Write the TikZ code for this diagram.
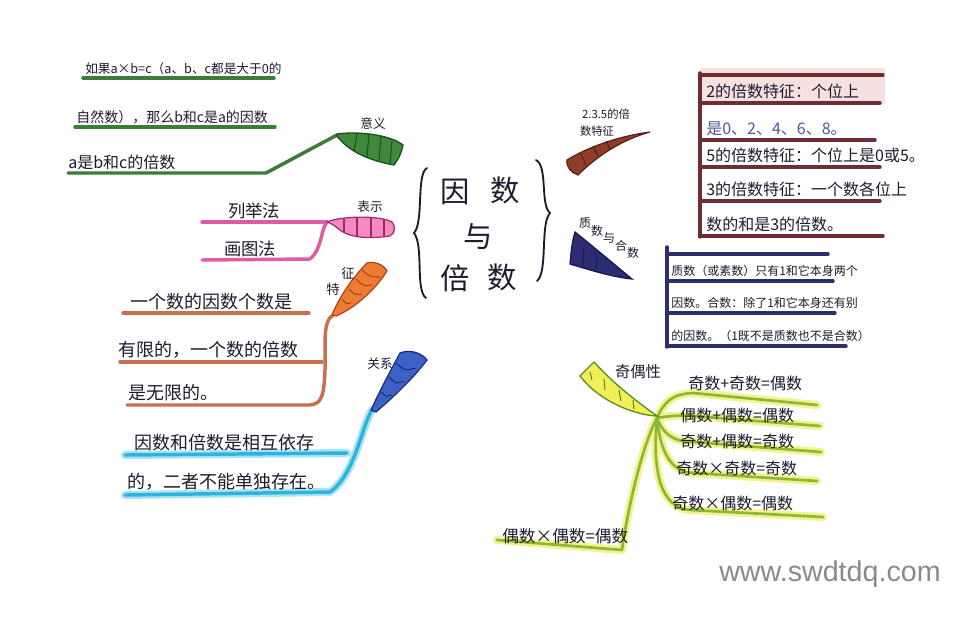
\documentclass[tikz,border=0pt]{standalone}
\usepackage{fontspec}
\setmainfont{Noto Sans CJK SC}
\newfontfamily\wmfont{Liberation Sans}
\newcommand\fsz[2]{\fontsize{#1}{#2}\selectfont}
\definecolor{ink}{HTML}{1C1C2E}
\definecolor{grn}{HTML}{3A7D34}
\definecolor{grnd}{HTML}{1F4F1F}
\definecolor{grnf}{HTML}{3E8A3A}
\definecolor{pnk}{HTML}{E05AA8}
\definecolor{pnkf}{HTML}{F48AC0}
\definecolor{pnkd}{HTML}{A02868}
\definecolor{org}{HTML}{C8704E}
\definecolor{orgf}{HTML}{EE7B32}
\definecolor{orgd}{HTML}{A8441A}
\definecolor{cyn}{HTML}{2EB4DC}
\definecolor{cynl}{HTML}{A8E4F4}
\definecolor{blf}{HTML}{3D62C6}
\definecolor{bld}{HTML}{1C2A7E}
\definecolor{brf}{HTML}{8E3C2C}
\definecolor{brd}{HTML}{5A1E16}
\definecolor{mar}{HTML}{6E2C36}
\definecolor{marl}{HTML}{F6E0E0}
\definecolor{nvf}{HTML}{2C2C74}
\definecolor{nvd}{HTML}{16164A}
\definecolor{nvl}{HTML}{2E2E6E}
\definecolor{ylf}{HTML}{F2EE5A}
\definecolor{yld}{HTML}{5E8E22}
\definecolor{yll}{HTML}{8CB834}
\definecolor{ylh}{HTML}{F4F290}
\definecolor{wmc}{HTML}{8A8A8A}
\definecolor{bluet}{HTML}{4A5A9A}
\begin{document}
\begin{tikzpicture}[x=0.75pt,y=-0.75pt,
  txt/.style={anchor=south west, inner sep=0pt, text=ink},
  lbl/.style={inner sep=0pt, text=ink, font=\fsz{9.5pt}{11pt}},
  ctr/.style={inner sep=0pt, text=ink, font=\fsz{22pt}{24pt}},
  mk/.style={line width=2.6pt, line cap=round, line join=round},
  gline/.style={mk, draw=grn},
  pline/.style={mk, draw=pnk},
  oline/.style={mk, draw=org},
  cline/.style={mk, draw=cyn},
  chalo/.style={line width=6pt, line cap=round, draw=cynl},
  mline/.style={mk, draw=mar},
  nline/.style={mk, draw=nvl},
  yline/.style={line width=2pt, line cap=round, line join=round, draw=yll},
  yhalo/.style={line width=6pt, line cap=round, line join=round, draw=ylh},
  bracestyle/.style={line width=1.4pt, draw=ink, line cap=round}
]
\useasboundingbox (0,0) rectangle (972,618);
\fill[white] (0,0) rectangle (972,618);

% ---------- centre ----------
\node[ctr] (c1) at (455,192) {因};
\node[ctr] (c2) at (505,190) {数};
\node[ctr] (c3) at (478,237) {与};
\node[ctr] (c4) at (455,278) {倍};
\node[ctr] (c5) at (502,277) {数};
\draw[bracestyle] (427,168) .. controls (416,174) and (424,222) .. (414,233) .. controls (424,246) and (415,290) .. (426,298);
\draw[bracestyle] (536,160) .. controls (548,166) and (540,205) .. (550,213) .. controls (540,224) and (548,272) .. (537,281);

% ---------- green: 意义 ----------
\coordinate (gTip) at (337,135);
\coordinate (gBend) at (266,173);
\coordinate (gEnd) at (68,173);
\coordinate (g1s) at (83,78); \coordinate (g1e) at (274,78);
\coordinate (g2s) at (75,127); \coordinate (g2e) at (275,127);
\draw[gline] (g1s) -- (g1e);
\draw[gline] (g2s) -- (g2e);
\draw[gline] (gTip) -- (gBend) -- (gEnd);
\filldraw[fill=grnf, draw=grnd, line width=1pt] (337,134) .. controls (360,131) and (390,135) .. (403,145) .. controls (402,152) and (398,160) .. (394,165) .. controls (372,161) and (350,153) .. (337,136) -- cycle;
\draw[grnd, line width=0.8pt] (357,133)--(354,151) (369,134)--(367,157) (381,137)--(379,161) (392,141)--(390,164);
\node[lbl] (gL) at (373,124) {意义};
\node[txt, font=\fsz{9.5pt}{11pt}] (g1) at (85,75) {如果a×b=c（a、b、c都是大于0的};
\node[txt, font=\fsz{10.5pt}{12pt}] (g2) at (76,124) {自然数），那么b和c是a的因数};
\node[txt, font=\fsz{12pt}{14pt}] (g3) at (68,170) {a是b和c的倍数};

% ---------- pink: 表示 ----------
\coordinate (pTip) at (327,222);
\coordinate (p1s) at (202,222);
\coordinate (p2s) at (202,260);
\draw[pline] (p1s) -- (pTip);
\draw[pline] (pTip) .. controls (321,228) and (322,250) .. (310,259) -- (p2s);
\filldraw[fill=pnkf, draw=pnkd, line width=0.9pt] (327,222) .. controls (340,216) and (380,215) .. (392,222) .. controls (396,227) and (395,233) .. (390,236) .. controls (370,239) and (350,238) .. (340,230) .. controls (335,226) and (331,223) .. (327,222) -- cycle;
\draw[pnkd, line width=0.8pt] (344,219)--(344,232) (357,218)--(357,237) (371,218)--(371,238) (384,219)--(384,237);
\node[lbl] (pL) at (370,207) {表示};
\node[txt, font=\fsz{13pt}{15pt}] (pt1) at (228,219) {列举法};
\node[txt, font=\fsz{13pt}{15pt}] (pt2) at (224,257) {画图法};

% ---------- orange: 特征 ----------
\coordinate (oTip) at (333,315);
\coordinate (o1s) at (123,313); \coordinate (o1e) at (309,313);
\coordinate (o2s) at (120,362); \coordinate (o2e) at (322,362);
\coordinate (o3s) at (127,405);
\draw[oline] (o1s) -- (o1e);
\draw[oline] (o2s) -- (o2e);
\draw[oline] (oTip) .. controls (322,322) and (326,345) .. (325,370) .. controls (324,395) and (322,404) .. (310,405) -- (o3s);
\filldraw[fill=orgf, draw=orgd, line width=0.9pt] (332,315) .. controls (340,295) and (355,275) .. (367,263) .. controls (375,261) and (384,265) .. (387,271) .. controls (375,290) and (355,308) .. (336,316) -- cycle;
\draw[orgd, line width=0.8pt] (342,299) .. controls (346,304) .. (351,303)
  (349,289) .. controls (355,295) .. (362,294)
  (356,279) .. controls (363,286) .. (372,285)
  (362,270) .. controls (370,277) .. (380,277);
\node[lbl, font=\fsz{10pt}{12pt}] (oL1) at (333,289) {特};
\node[lbl, font=\fsz{10pt}{12pt}] (oL2) at (348,273) {征};
\node[txt, font=\fsz{13.5pt}{15pt}] (ot1) at (130,310) {一个数的因数个数是};
\node[txt, font=\fsz{13.5pt}{15pt}] (ot2) at (118,359) {有限的，一个数的倍数};
\node[txt, font=\fsz{13.5pt}{15pt}] (ot3) at (128,401) {是无限的。};

% ---------- blue: 关系 ----------
\coordinate (bTip) at (372,410);
\coordinate (b1s) at (125,455); \coordinate (b1e) at (347,453);
\coordinate (b2s) at (125,495);
\draw[chalo] (b1s) -- (b1e);
\draw[chalo] (bTip) .. controls (362,425) and (355,475) .. (330,492) -- (b2s);
\draw[cline] (b1s) -- (b1e);
\draw[cline] (bTip) .. controls (362,425) and (355,475) .. (330,492) -- (b2s);
\filldraw[fill=blf, draw=bld, line width=0.9pt] (371,410) .. controls (380,390) and (392,368) .. (400,353) .. controls (410,349) and (422,353) .. (427,360) .. controls (412,380) and (390,400) .. (376,412) -- cycle;
\draw[bld, line width=0.8pt] (381,392) .. controls (386,397) .. (392,395)
  (389,377) .. controls (396,384) .. (404,381)
  (396,363) .. controls (405,371) .. (416,368);
\node[lbl] (bL) at (380,364) {关系};
\node[txt, font=\fsz{13.5pt}{15pt}] (bt1) at (134,451) {因数和倍数是相互依存};
\node[txt, font=\fsz{13.5pt}{15pt}] (bt2) at (127,491) {的，二者不能单独存在。};

% ---------- brown: 2.3.5 ----------
\filldraw[fill=brf, draw=brd, line width=0.9pt] (567,160) .. controls (590,146) and (620,136) .. (650,132) .. controls (625,139) and (600,153) .. (578,175) .. controls (572,173) and (566,168) .. (567,160) -- cycle;
\draw[brd, line width=0.7pt] (580,152)--(586,165) (593,146)--(598,156) (606,141)--(610,149);
\node[lbl, font=\fsz{8.5pt}{10pt}] (brL1) at (606,114) {2.3.5的倍};
\node[lbl, font=\fsz{8.5pt}{10pt}] (brL2) at (597,131) {数特征};

% box 1
\coordinate (m0) at (700,73);
\coordinate (m0b) at (700,237);
\fill[marl] (700,68) rectangle (885,104);
\draw[mline] (700,75) -- (883,75);
\draw[mline] (700,103) -- (880,103);
\draw[mline] (700,140) -- (875,140);
\draw[mline] (700,167) -- (880,167);
\draw[mline] (700,201) -- (880,201);
\draw[mline] (700,236) -- (883,236);
\draw[mline] (m0) -- (m0b);
\node[txt, font=\fsz{12pt}{14pt}] (m1) at (706,99) {2的倍数特征：个位上};
\node[txt, font=\fsz{12pt}{14pt}, text=bluet] (m2) at (706,136) {是0、2、4、6、8。};
\node[txt, font=\fsz{12pt}{14pt}] (m3) at (706,163) {5的倍数特征：个位上是0或5。};
\node[txt, font=\fsz{12pt}{14pt}] (m4) at (706,197) {3的倍数特征：一个数各位上};
\node[txt, font=\fsz{12pt}{14pt}] (m5) at (706,232) {数的和是3的倍数。};

% ---------- navy: 质数与合数 ----------
\filldraw[fill=nvf, draw=nvd, line width=0.9pt] (575,232) .. controls (595,248) and (615,265) .. (632,279) .. controls (612,277) and (590,270) .. (570,264) .. controls (571,252) and (572,242) .. (575,232) -- cycle;
\draw[nvd, line width=0.6pt] (584,245)--(583,266) (597,256)--(596,270);
\node[lbl, font=\fsz{9pt}{10pt}] (nL1) at (585,223) {质};
\node[lbl, font=\fsz{9pt}{10pt}] (nL2) at (597,230.5) {数};
\node[lbl, font=\fsz{9pt}{10pt}] (nL3) at (609,238) {与};
\node[lbl, font=\fsz{9pt}{10pt}] (nL4) at (621,245.5) {合};
\node[lbl, font=\fsz{9pt}{10pt}] (nL5) at (633,253) {数};
\coordinate (n0) at (667,247);
\coordinate (n0b) at (667,347);
\draw[nline] (667,254) -- (828,254);
\draw[nline] (667,281) -- (833,281);
\draw[nline] (667,313) -- (835,313);
\draw[nline] (667,346) -- (846,346);
\draw[nline] (n0) -- (n0b);
\node[txt, font=\fsz{9pt}{10pt}] (n1) at (671,277) {质数（或素数）只有1和它本身两个};
\node[txt, font=\fsz{9pt}{10pt}] (n2) at (671,309) {因数。合数：除了1和它本身还有别};
\node[txt, font=\fsz{9pt}{10pt}] (n3) at (671,342) {的因数。（1既不是质数也不是合数）};

% ---------- yellow-green: 奇偶性 ----------
\coordinate (yH) at (657,418);
\coordinate (y1e) at (817,405);
\coordinate (y2e) at (820,426);
\coordinate (y3e) at (821,452);
\coordinate (y4e) at (817,481);
\coordinate (y5e) at (823,517);
\coordinate (y6e) at (497,540);
\foreach \s in {yhalo, yline}{
  \draw[\s] (yH) .. controls (664,402) and (672,394) .. (693,393) -- (y1e);
  \draw[\s] (yH) .. controls (668,416) and (680,415) .. (693,416) -- (y2e);
  \draw[\s] (yH) .. controls (662,432) and (672,442) .. (693,442) -- (y3e);
  \draw[\s] (yH) .. controls (660,450) and (670,472) .. (693,473) -- (y4e);
  \draw[\s] (yH) .. controls (652,470) and (660,508) .. (690,510) -- (y5e);
  \draw[\s] (yH) .. controls (640,450) and (626,520) .. (622,550) -- (y6e);
}
\filldraw[fill=ylf, draw=yld, line width=1pt] (580,376) -- (594,362) .. controls (615,385) and (635,400) .. (657,416) .. controls (635,415) and (600,402) .. (580,376) -- cycle;
\draw[yld, line width=0.8pt] (590,372)--(592,380) (604,379)--(605,390) (619,390)--(621,401) (633,400)--(634,409);
\node[lbl, font=\fsz{11.5pt}{13pt}] (yL) at (638,372) {奇偶性};
\node[txt, font=\fsz{12pt}{14pt}] (y1) at (688,391) {奇数+奇数=偶数};
\node[txt, font=\fsz{12pt}{14pt}] (y2) at (680,423) {偶数+偶数=偶数};
\node[txt, font=\fsz{12pt}{14pt}] (y3) at (680,449) {奇数+偶数=奇数};
\node[txt, font=\fsz{12pt}{14pt}] (y4) at (676,476) {奇数×奇数=奇数};
\node[txt, font=\fsz{12pt}{14pt}] (y5) at (672,511) {奇数×偶数=偶数};
\node[txt, font=\fsz{12.5pt}{14pt}] (y6) at (502,544) {偶数×偶数=偶数};

% ---------- watermark ----------
\node[inner sep=0pt, text=wmc, font=\wmfont\fsz{21.5pt}{24pt}] (wm) at (830,574) {www.swdtdq.com};
\end{tikzpicture}
\end{document}
